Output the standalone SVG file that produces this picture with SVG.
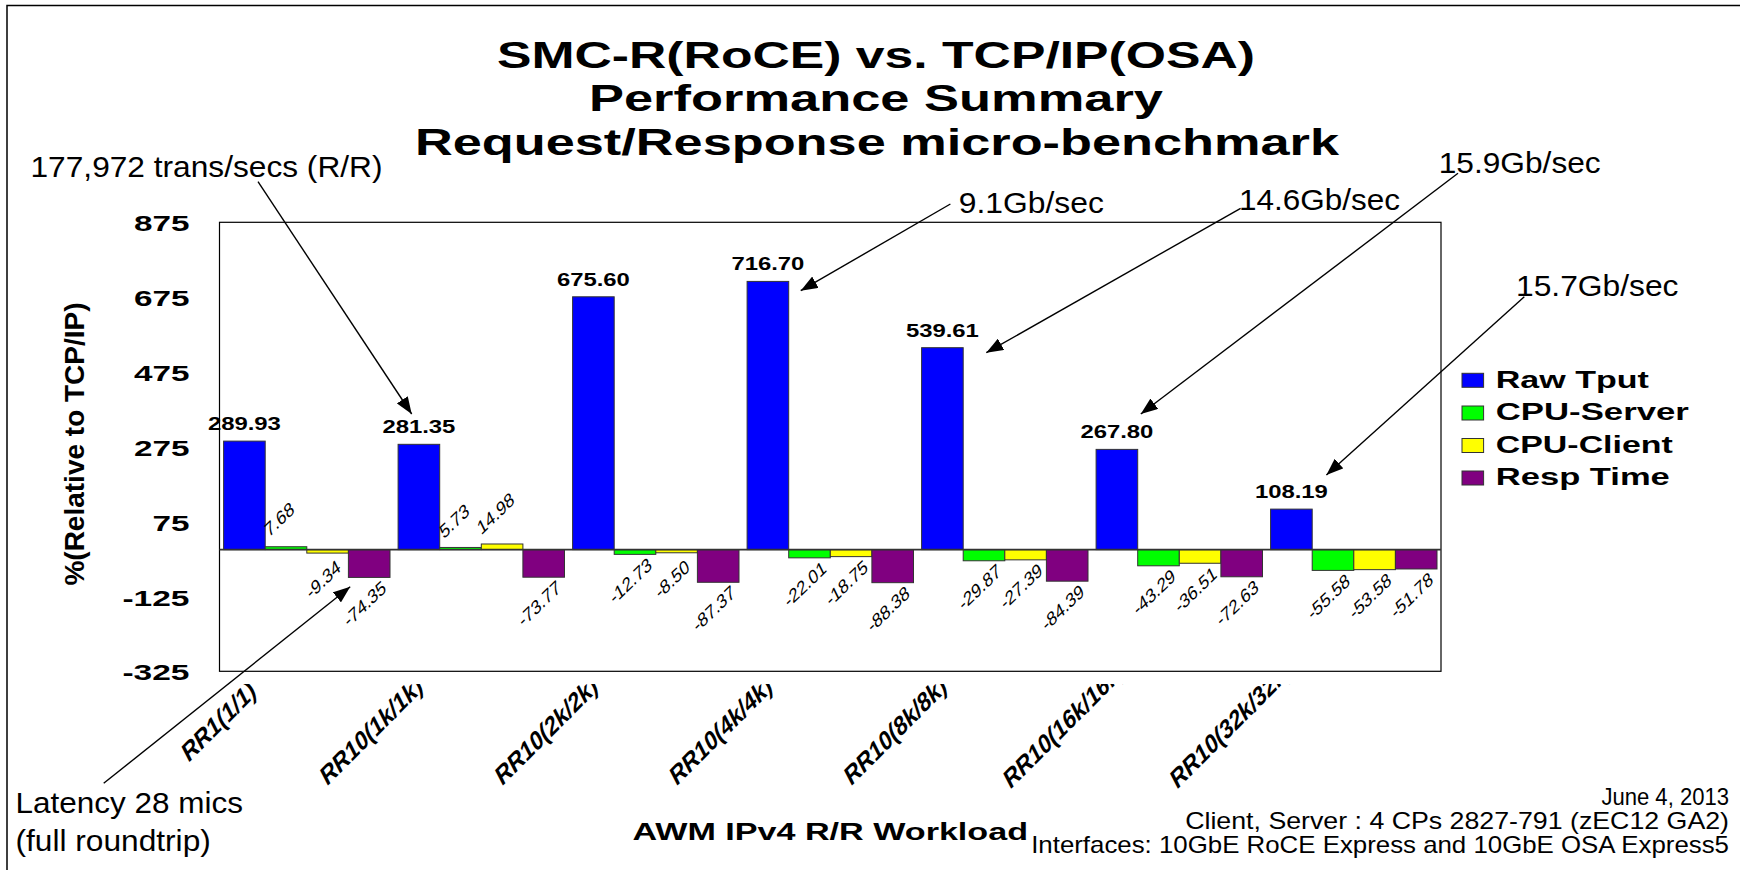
<svg xmlns="http://www.w3.org/2000/svg" width="1740" height="870" viewBox="0 0 1740 870">
  <defs>
    <style>
      text { font-family: "Liberation Sans", Arial, Helvetica, sans-serif; fill: #000; }
      .ttl { font-size: 36px; font-weight: bold; text-anchor: middle; }
      .ax { font-size: 21.5px; font-weight: bold; text-anchor: end; }
      .ytl { font-size: 28px; font-weight: bold; text-anchor: middle; }
      .val { font-size: 18px; font-weight: bold; text-anchor: middle; }
      .rv { font-size: 17px; text-anchor: middle; dominant-baseline: central; }
      .cat { font-size: 24px; font-weight: bold; }
      .leg { font-size: 23px; font-weight: bold; }
      .note { font-size: 30px; }
      .foot { font-size: 24px; text-anchor: end; }
      .xt { font-size: 23px; font-weight: bold; }
      .bar { stroke: #333; stroke-width: 1; }
      .blue { fill: #0000ff; }
      .green { fill: #00ff00; }
      .yellow { fill: #ffff00; }
      .purple { fill: #800080; }
      .conn { stroke: #000; stroke-width: 1.4; fill: none; marker-end: url(#ah); }
    </style>
    <marker id="ah" viewBox="0 0 17 13" refX="17" refY="6.5" markerWidth="17" markerHeight="13" markerUnits="userSpaceOnUse" orient="auto">
      <path d="M0,0 L17,6.5 L0,13 z" fill="#000"/>
    </marker>
    <clipPath id="catclip">
      <rect x="0" y="684" width="1740" height="186"/>
    </clipPath>
  </defs>

  <rect width="1740" height="870" fill="#fff"/>
  <!-- slide frame -->
  <rect x="7" y="5.5" width="1745" height="880" fill="none" stroke="#000" stroke-width="1.5"/>

  <!-- title -->
  <g id="title">
    <text class="ttl" x="876" y="67.5" textLength="758" lengthAdjust="spacingAndGlyphs">SMC-R(RoCE) vs. TCP/IP(OSA)</text>
    <text class="ttl" x="876" y="111" textLength="574" lengthAdjust="spacingAndGlyphs">Performance Summary</text>
    <text class="ttl" x="877" y="155" textLength="924" lengthAdjust="spacingAndGlyphs">Request/Response micro-benchmark</text>
  </g>

  <!-- plot area -->
  <g id="plot">
    <rect x="219.5" y="222.3" width="1221.5" height="449" fill="none" stroke="#000" stroke-width="1.2"/>
  </g>

  <!-- value axis -->
  <g id="y-axis">
    <text class="ax" x="189.4" y="231.3" textLength="55.5" lengthAdjust="spacingAndGlyphs">875</text>
    <text class="ax" x="189.4" y="306.1" textLength="55.5" lengthAdjust="spacingAndGlyphs">675</text>
    <text class="ax" x="189.4" y="381" textLength="55.5" lengthAdjust="spacingAndGlyphs">475</text>
    <text class="ax" x="189.4" y="455.8" textLength="55.5" lengthAdjust="spacingAndGlyphs">275</text>
    <text class="ax" x="189.4" y="530.6" textLength="37" lengthAdjust="spacingAndGlyphs">75</text>
    <text class="ax" x="189.4" y="605.5" textLength="67" lengthAdjust="spacingAndGlyphs">-125</text>
    <text class="ax" x="189.4" y="680.3" textLength="67" lengthAdjust="spacingAndGlyphs">-325</text>
    <text class="ytl" transform="translate(84,444) rotate(-90)">%(Relative to TCP/IP)</text>
  </g>

  <!-- bars, one group per workload -->
  <g id="rr1-1-1">
    <rect class="bar blue" x="223.6" y="441.11" width="41.6" height="108.49"/>
    <rect class="bar green" x="265.2" y="546.73" width="41.6" height="2.87"/>
    <rect class="bar yellow" x="306.8" y="549.6" width="41.6" height="3.5"/>
    <rect class="bar purple" x="348.4" y="549.6" width="41.6" height="27.82"/>
    <text class="val" x="244.4" y="430.1" textLength="73" lengthAdjust="spacingAndGlyphs">289.93</text>
    <text class="rv" transform="translate(279.2,519.2) rotate(-44) skewX(-18) scale(1.12,1)">7.68</text>
    <text class="rv" transform="translate(323.3,579.4) rotate(-44) skewX(-18) scale(1.12,1)">-9.34</text>
    <text class="rv" transform="translate(364.9,603.7) rotate(-44) skewX(-18) scale(1.12,1)">-74.35</text>
  </g>
  <g id="rr10-1k">
    <rect class="bar blue" x="398.1" y="444.32" width="41.6" height="105.28"/>
    <rect class="bar green" x="439.7" y="547.46" width="41.6" height="2.14"/>
    <rect class="bar yellow" x="481.3" y="543.99" width="41.6" height="5.61"/>
    <rect class="bar purple" x="522.9" y="549.6" width="41.6" height="27.6"/>
    <text class="val" x="418.9" y="433.3" textLength="73" lengthAdjust="spacingAndGlyphs">281.35</text>
    <text class="rv" transform="translate(454.2,520.9) rotate(-44) skewX(-18) scale(1.12,1)">5.73</text>
    <text class="rv" transform="translate(495.6,513.4) rotate(-44) skewX(-18) scale(1.12,1)">14.98</text>
    <text class="rv" transform="translate(539.4,603.5) rotate(-44) skewX(-18) scale(1.12,1)">-73.77</text>
  </g>
  <g id="rr10-2k">
    <rect class="bar blue" x="572.6" y="296.79" width="41.6" height="252.81"/>
    <rect class="bar green" x="614.2" y="549.6" width="41.6" height="4.76"/>
    <rect class="bar yellow" x="655.8" y="549.6" width="41.6" height="3.18"/>
    <rect class="bar purple" x="697.4" y="549.6" width="41.6" height="32.69"/>
    <text class="val" x="593.4" y="285.8" textLength="73" lengthAdjust="spacingAndGlyphs">675.60</text>
    <text class="rv" transform="translate(630.7,580.7) rotate(-44) skewX(-18) scale(1.12,1)">-12.73</text>
    <text class="rv" transform="translate(672.3,579.1) rotate(-44) skewX(-18) scale(1.12,1)">-8.50</text>
    <text class="rv" transform="translate(713.9,608.6) rotate(-44) skewX(-18) scale(1.12,1)">-87.37</text>
  </g>
  <g id="rr10-4k">
    <rect class="bar blue" x="747.1" y="281.41" width="41.6" height="268.19"/>
    <rect class="bar green" x="788.7" y="549.6" width="41.6" height="8.24"/>
    <rect class="bar yellow" x="830.3" y="549.6" width="41.6" height="7.02"/>
    <rect class="bar purple" x="871.9" y="549.6" width="41.6" height="33.07"/>
    <text class="val" x="767.9" y="270.4" textLength="73" lengthAdjust="spacingAndGlyphs">716.70</text>
    <text class="rv" transform="translate(805.2,584.1) rotate(-44) skewX(-18) scale(1.12,1)">-22.01</text>
    <text class="rv" transform="translate(846.8,582.9) rotate(-44) skewX(-18) scale(1.12,1)">-18.75</text>
    <text class="rv" transform="translate(888.4,609) rotate(-44) skewX(-18) scale(1.12,1)">-88.38</text>
  </g>
  <g id="rr10-8k">
    <rect class="bar blue" x="921.6" y="347.68" width="41.6" height="201.92"/>
    <rect class="bar green" x="963.2" y="549.6" width="41.6" height="11.18"/>
    <rect class="bar yellow" x="1004.8" y="549.6" width="41.6" height="10.25"/>
    <rect class="bar purple" x="1046.4" y="549.6" width="41.6" height="31.58"/>
    <text class="val" x="942.4" y="336.7" textLength="73" lengthAdjust="spacingAndGlyphs">539.61</text>
    <text class="rv" transform="translate(979.7,587.1) rotate(-44) skewX(-18) scale(1.12,1)">-29.87</text>
    <text class="rv" transform="translate(1021.3,586.2) rotate(-44) skewX(-18) scale(1.12,1)">-27.39</text>
    <text class="rv" transform="translate(1062.9,607.5) rotate(-44) skewX(-18) scale(1.12,1)">-84.39</text>
  </g>
  <g id="rr10-16k">
    <rect class="bar blue" x="1096.1" y="449.39" width="41.6" height="100.21"/>
    <rect class="bar green" x="1137.7" y="549.6" width="41.6" height="16.2"/>
    <rect class="bar yellow" x="1179.3" y="549.6" width="41.6" height="13.66"/>
    <rect class="bar purple" x="1220.9" y="549.6" width="41.6" height="27.18"/>
    <text class="val" x="1116.9" y="438.4" textLength="73" lengthAdjust="spacingAndGlyphs">267.80</text>
    <text class="rv" transform="translate(1154.2,592.1) rotate(-44) skewX(-18) scale(1.12,1)">-43.29</text>
    <text class="rv" transform="translate(1195.8,589.6) rotate(-44) skewX(-18) scale(1.12,1)">-36.51</text>
    <text class="rv" transform="translate(1237.4,603.1) rotate(-44) skewX(-18) scale(1.12,1)">-72.63</text>
  </g>
  <g id="rr10-32k">
    <rect class="bar blue" x="1270.6" y="509.11" width="41.6" height="40.49"/>
    <rect class="bar green" x="1312.2" y="549.6" width="41.6" height="20.8"/>
    <rect class="bar yellow" x="1353.8" y="549.6" width="41.6" height="20.05"/>
    <rect class="bar purple" x="1395.4" y="549.6" width="41.6" height="19.38"/>
    <text class="val" x="1291.4" y="498.1" textLength="73" lengthAdjust="spacingAndGlyphs">108.19</text>
    <text class="rv" transform="translate(1328.7,596.7) rotate(-44) skewX(-18) scale(1.12,1)">-55.58</text>
    <text class="rv" transform="translate(1370.3,596) rotate(-44) skewX(-18) scale(1.12,1)">-53.58</text>
    <text class="rv" transform="translate(1411.9,595.3) rotate(-44) skewX(-18) scale(1.12,1)">-51.78</text>
  </g>

  <!-- zero line -->
  <line x1="219.5" y1="549.6" x2="1441" y2="549.6" stroke="#333" stroke-width="1.6"/>

  <!-- category axis -->
  <g id="x-axis" clip-path="url(#catclip)">
    <text class="cat" transform="translate(188.3,763.3) rotate(-45) skewX(-18)">RR1(1/1)</text>
    <text class="cat" transform="translate(326.7,786.7) rotate(-45) skewX(-18)">RR10(1k/1k)</text>
    <text class="cat" transform="translate(501.7,786.7) rotate(-45) skewX(-18)">RR10(2k/2k)</text>
    <text class="cat" transform="translate(676.2,786.7) rotate(-45) skewX(-18)">RR10(4k/4k)</text>
    <text class="cat" transform="translate(850.7,786.7) rotate(-45) skewX(-18)">RR10(8k/8k)</text>
    <text class="cat" transform="translate(1010,790) rotate(-45) skewX(-18)">RR10(16k/16k)</text>
    <text class="cat" transform="translate(1176.7,790) rotate(-45) skewX(-18)">RR10(32k/32k)</text>
  </g>
  <g id="x-title">
    <text class="xt" x="632.5" y="840" textLength="395.5" lengthAdjust="spacingAndGlyphs">AWM IPv4 R/R Workload</text>
  </g>

  <!-- legend -->
  <g id="legend">
    <rect class="bar blue" x="1462" y="373.3" width="21.6" height="14"/>
    <rect class="bar green" x="1462" y="406" width="21.6" height="14"/>
    <rect class="bar yellow" x="1462" y="438.5" width="21.6" height="14"/>
    <rect class="bar purple" x="1462" y="471" width="21.6" height="14"/>
    <text class="leg" x="1495.8" y="387.5" textLength="153" lengthAdjust="spacingAndGlyphs">Raw Tput</text>
    <text class="leg" x="1495.8" y="420.3" textLength="193" lengthAdjust="spacingAndGlyphs">CPU-Server</text>
    <text class="leg" x="1495.8" y="452.5" textLength="177" lengthAdjust="spacingAndGlyphs">CPU-Client</text>
    <text class="leg" x="1495.8" y="485" textLength="174" lengthAdjust="spacingAndGlyphs">Resp Time</text>
  </g>

  <!-- callout labels -->
  <g id="note-trans">
    <text class="note" x="30.5" y="177" textLength="352" lengthAdjust="spacingAndGlyphs">177,972 trans/secs (R/R)</text>
  </g>
  <g id="note-9-1">
    <text class="note" x="958.8" y="213" textLength="145" lengthAdjust="spacingAndGlyphs">9.1Gb/sec</text>
  </g>
  <g id="note-14-6">
    <text class="note" x="1239" y="209.5" textLength="161" lengthAdjust="spacingAndGlyphs">14.6Gb/sec</text>
  </g>
  <g id="note-15-9">
    <text class="note" x="1438.7" y="172.5" textLength="162" lengthAdjust="spacingAndGlyphs">15.9Gb/sec</text>
  </g>
  <g id="note-15-7">
    <text class="note" x="1516" y="296" textLength="162.5" lengthAdjust="spacingAndGlyphs">15.7Gb/sec</text>
  </g>
  <g id="note-latency">
    <text class="note" x="15.5" y="812.5" textLength="227.5" lengthAdjust="spacingAndGlyphs">Latency 28 mics</text>
    <text class="note" x="15.5" y="851" textLength="195.3" lengthAdjust="spacingAndGlyphs">(full roundtrip)</text>
  </g>

  <!-- footer -->
  <g id="footer">
    <text class="foot" x="1729" y="805" textLength="127.6" lengthAdjust="spacingAndGlyphs">June 4, 2013</text>
    <text class="foot" x="1729" y="829" textLength="543.8" lengthAdjust="spacingAndGlyphs">Client, Server : 4 CPs 2827-791 (zEC12 GA2)</text>
    <text class="foot" x="1729" y="853" textLength="697.8" lengthAdjust="spacingAndGlyphs">Interfaces: 10GbE RoCE Express and 10GbE OSA Express5</text>
  </g>

  <!-- callout arrows -->
  <g id="connectors">
    <path class="conn" d="M258,181.7 L411.7,414"/>
    <path class="conn" d="M950.4,204 L800.7,290.7"/>
    <path class="conn" d="M1240.6,208.3 L986.3,352.7"/>
    <path class="conn" d="M1458,173.3 L1140.8,414"/>
    <path class="conn" d="M1524.3,296.7 L1326.4,475"/>
    <path class="conn" d="M103.7,783.3 L350.2,586.7"/>
  </g>
</svg>
